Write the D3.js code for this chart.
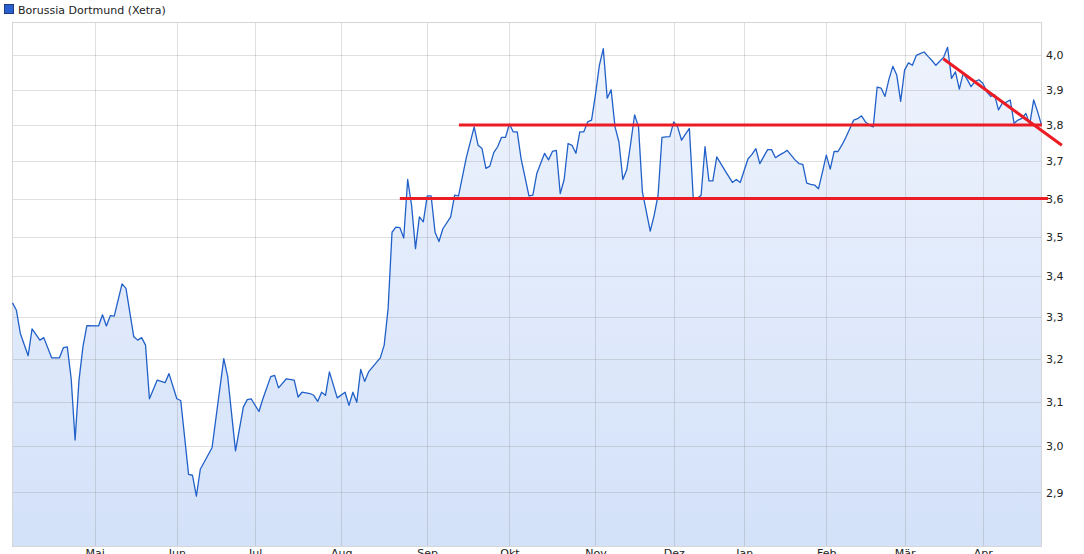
<!DOCTYPE html>
<html>
<head>
<meta charset="utf-8">
<script src="https://cdn.jsdelivr.net/npm/d3@7"></script>
<style>
  html, body { margin: 0; padding: 0; background: #ffffff; }
  svg { display: block; }
  text { font-family: "DejaVu Sans", Verdana, sans-serif; }
</style>
</head>
<body>
<svg id="chart" width="1084" height="554"></svg>
<script>
// ---- data (trading-day index, closing price in EUR) ----
const seriesName = "Borussia Dortmund (Xetra)";
const days = [0,1,2,4,5,7,8,10,12,13,14,15,16,17,18,19,22,23,24,25,26,28,29,31,32,33,34,35,37,39,40,42,43,45,46,47,48,51,54,55,57,59,60,61,63,64,66,67,68,70,72,73,74,76,77,78,79,80,81,83,85,86,87,88,89,90,91,94,95,96,97,98,99,100,101,102,103,104,105,106,107,108,109,110,112,113,114,116,118,119,120,121,122,123,124,125,126,127,128,129,130,132,133,134,136,137,138,139,140,141,142,143,144,145,146,147,148,149,150,151,152,153,154,155,156,157,158,159,160,161,163,164,165,166,167,168,169,170,171,172,173,174,175,176,177,178,179,180,182,183,184,185,186,187,188,189,190,191,192,193,194,195,196,197,198,199,200,201,202,203,204,205,206,207,208,209,210,211,212,213,214,215,216,217,218,219,220,221,222,223,224,225,226,227,228,229,230,231,232,233,234,235,236,237,238,239,240,241,242,243,244,245,246,247,248,249,250,251,252,253,254,255,256,257,258,259,260,261,262,263];
const prices = [3.334,3.316,3.260,3.207,3.271,3.244,3.250,3.202,3.202,3.226,3.228,3.153,3.014,3.150,3.228,3.279,3.278,3.305,3.278,3.303,3.302,3.381,3.370,3.252,3.244,3.250,3.232,3.107,3.150,3.144,3.165,3.107,3.103,2.939,2.937,2.892,2.950,2.997,3.200,3.158,2.990,3.088,3.105,3.107,3.078,3.107,3.158,3.161,3.132,3.153,3.150,3.111,3.122,3.119,3.115,3.101,3.122,3.115,3.169,3.109,3.122,3.092,3.122,3.099,3.175,3.147,3.169,3.202,3.232,3.320,3.512,3.525,3.524,3.497,3.651,3.582,3.470,3.552,3.539,3.607,3.607,3.512,3.488,3.521,3.552,3.609,3.607,3.711,3.795,3.744,3.735,3.681,3.687,3.724,3.740,3.766,3.766,3.803,3.781,3.781,3.707,3.607,3.609,3.667,3.722,3.704,3.727,3.730,3.613,3.651,3.749,3.744,3.722,3.781,3.781,3.809,3.814,3.886,3.971,4.020,3.876,3.900,3.795,3.753,3.651,3.677,3.749,3.829,3.795,3.617,3.515,3.556,3.609,3.766,3.767,3.768,3.809,3.795,3.758,3.775,3.791,3.600,3.600,3.609,3.740,3.647,3.647,3.712,3.677,3.660,3.643,3.651,3.643,3.675,3.707,3.719,3.735,3.694,3.713,3.732,3.732,3.710,3.717,3.723,3.730,3.717,3.704,3.694,3.692,3.641,3.638,3.636,3.626,3.670,3.717,3.679,3.727,3.727,3.745,3.766,3.790,3.814,3.818,3.826,3.809,3.800,3.795,3.908,3.905,3.881,3.930,3.968,3.943,3.867,3.957,3.978,3.971,4.000,4.005,4.010,3.997,3.985,3.971,3.983,3.995,4.024,3.933,3.952,3.902,3.948,3.930,3.909,3.924,3.929,3.919,3.895,3.881,3.886,3.843,3.862,3.865,3.871,3.805,3.814,3.819,3.833,3.803,3.871,3.838,3.800];

const monthDays   = [21, 42, 62, 84, 106, 127, 149, 169, 187, 208, 228, 248];
const monthLabels = ["Mai", "Jun", "Jul", "Aug", "Sep", "Okt", "Nov", "Dez", "Jan", "Feb", "Mär", "Apr"];
const yTicks = [2.9, 3.0, 3.1, 3.2, 3.3, 3.4, 3.5, 3.6, 3.7, 3.8, 3.9, 4.0];

// hand-drawn annotation lines (day index, price)
const hLevels = [
  { from: 114.1, to: 263.1, value: 3.8 },
  { from: 99.0,  to: 264.7, value: 3.6 }
];
const trendLines = [
  { d0: 237.9, v0: 3.990, d1: 268.2, v1: 3.744 }
];

// ---- layout ----
const pL = 12.5, pR = 1041.5, pT = 22.5, pB = 546.5;
const svg = d3.select("#chart");

const x = d3.scaleLinear().domain([0, 263]).range([pL, pR]);
const y = d3.scaleLog().domain([2.787, 4.098]).range([pB, pT]);

const data = days.map((d, i) => ({ d, v: prices[i] }));

// gradient
const defs = svg.append("defs");
const grad = defs.append("linearGradient")
  .attr("id", "fillGrad").attr("gradientUnits", "userSpaceOnUse")
  .attr("x1", 0).attr("x2", 0).attr("y1", pT).attr("y2", pB);
grad.append("stop").attr("offset", 0).attr("stop-color", "#eff4fd");
grad.append("stop").attr("offset", 1).attr("stop-color", "#d3e1f9");

// plot background
svg.append("rect").attr("x", pL).attr("y", pT)
  .attr("width", pR - pL).attr("height", pB - pT)
  .attr("fill", "#ffffff");

// area
const area = d3.area().x(p => x(p.d)).y0(pB).y1(p => y(p.v));
svg.append("path").datum(data).attr("d", area).attr("fill", "url(#fillGrad)");

// grid
const grid = svg.append("g").attr("stroke", "rgba(140,140,140,0.28)").attr("stroke-width", 1);
grid.selectAll("line.h").data(yTicks).join("line")
  .attr("x1", pL).attr("x2", pR)
  .attr("y1", d => Math.round(y(d)) + 0.5).attr("y2", d => Math.round(y(d)) + 0.5);
grid.selectAll("line.v").data(monthDays).join("line")
  .attr("y1", pT).attr("y2", pB)
  .attr("x1", d => Math.round(x(d)) + 0.5).attr("x2", d => Math.round(x(d)) + 0.5);

// frame
svg.append("rect").attr("x", pL).attr("y", pT)
  .attr("width", pR - pL).attr("height", pB - pT)
  .attr("fill", "none").attr("stroke", "#d6d6d6").attr("stroke-width", 1);

// price line
const line = d3.line().x(p => x(p.d)).y(p => y(p.v));
svg.append("path").datum(data).attr("d", line)
  .attr("fill", "none").attr("stroke", "#2060c8").attr("stroke-width", 1.3)
  .attr("stroke-linejoin", "round");

// annotation lines
svg.selectAll("line.level").data(hLevels).join("line")
  .attr("x1", d => x(d.from)).attr("x2", d => x(d.to))
  .attr("y1", d => y(d.value)).attr("y2", d => y(d.value))
  .attr("stroke", "#ec1c24").attr("stroke-width", 3);
svg.selectAll("line.trend").data(trendLines).join("line")
  .attr("x1", d => x(d.d0)).attr("x2", d => x(d.d1))
  .attr("y1", d => y(d.v0)).attr("y2", d => y(d.v1))
  .attr("stroke", "#ec1c24").attr("stroke-width", 3);

// axes
const fmt = v => d3.format(".1f")(v).replace(".", ",");
const yAxis = svg.append("g").attr("transform", `translate(${pR},0)`)
  .call(d3.axisRight(y).tickValues(yTicks).tickFormat(fmt).tickSize(0).tickPadding(4.5));
yAxis.select(".domain").remove();
yAxis.selectAll("text").attr("font-size", 11).attr("fill", "#222")
  .attr("font-family", "'DejaVu Sans', Verdana, sans-serif");

const xAxis = svg.append("g").attr("transform", `translate(0,${pB})`)
  .call(d3.axisBottom(x).tickValues(monthDays).tickFormat((d, i) => monthLabels[i]).tickSize(0).tickPadding(3));
xAxis.select(".domain").remove();
xAxis.selectAll("text").attr("font-size", 11).attr("fill", "#222")
  .attr("font-family", "'DejaVu Sans', Verdana, sans-serif");

// legend
const legend = svg.append("g");
legend.append("rect").attr("x", 4.5).attr("y", 4.5).attr("width", 9).attr("height", 9)
  .attr("fill", "#2b5fd0").attr("stroke", "#1b3a80").attr("stroke-width", 1);
legend.append("text").attr("x", 18).attr("y", 13.5).attr("font-size", 11).attr("fill", "#222")
  .text(seriesName);
</script>
</body>
</html>
